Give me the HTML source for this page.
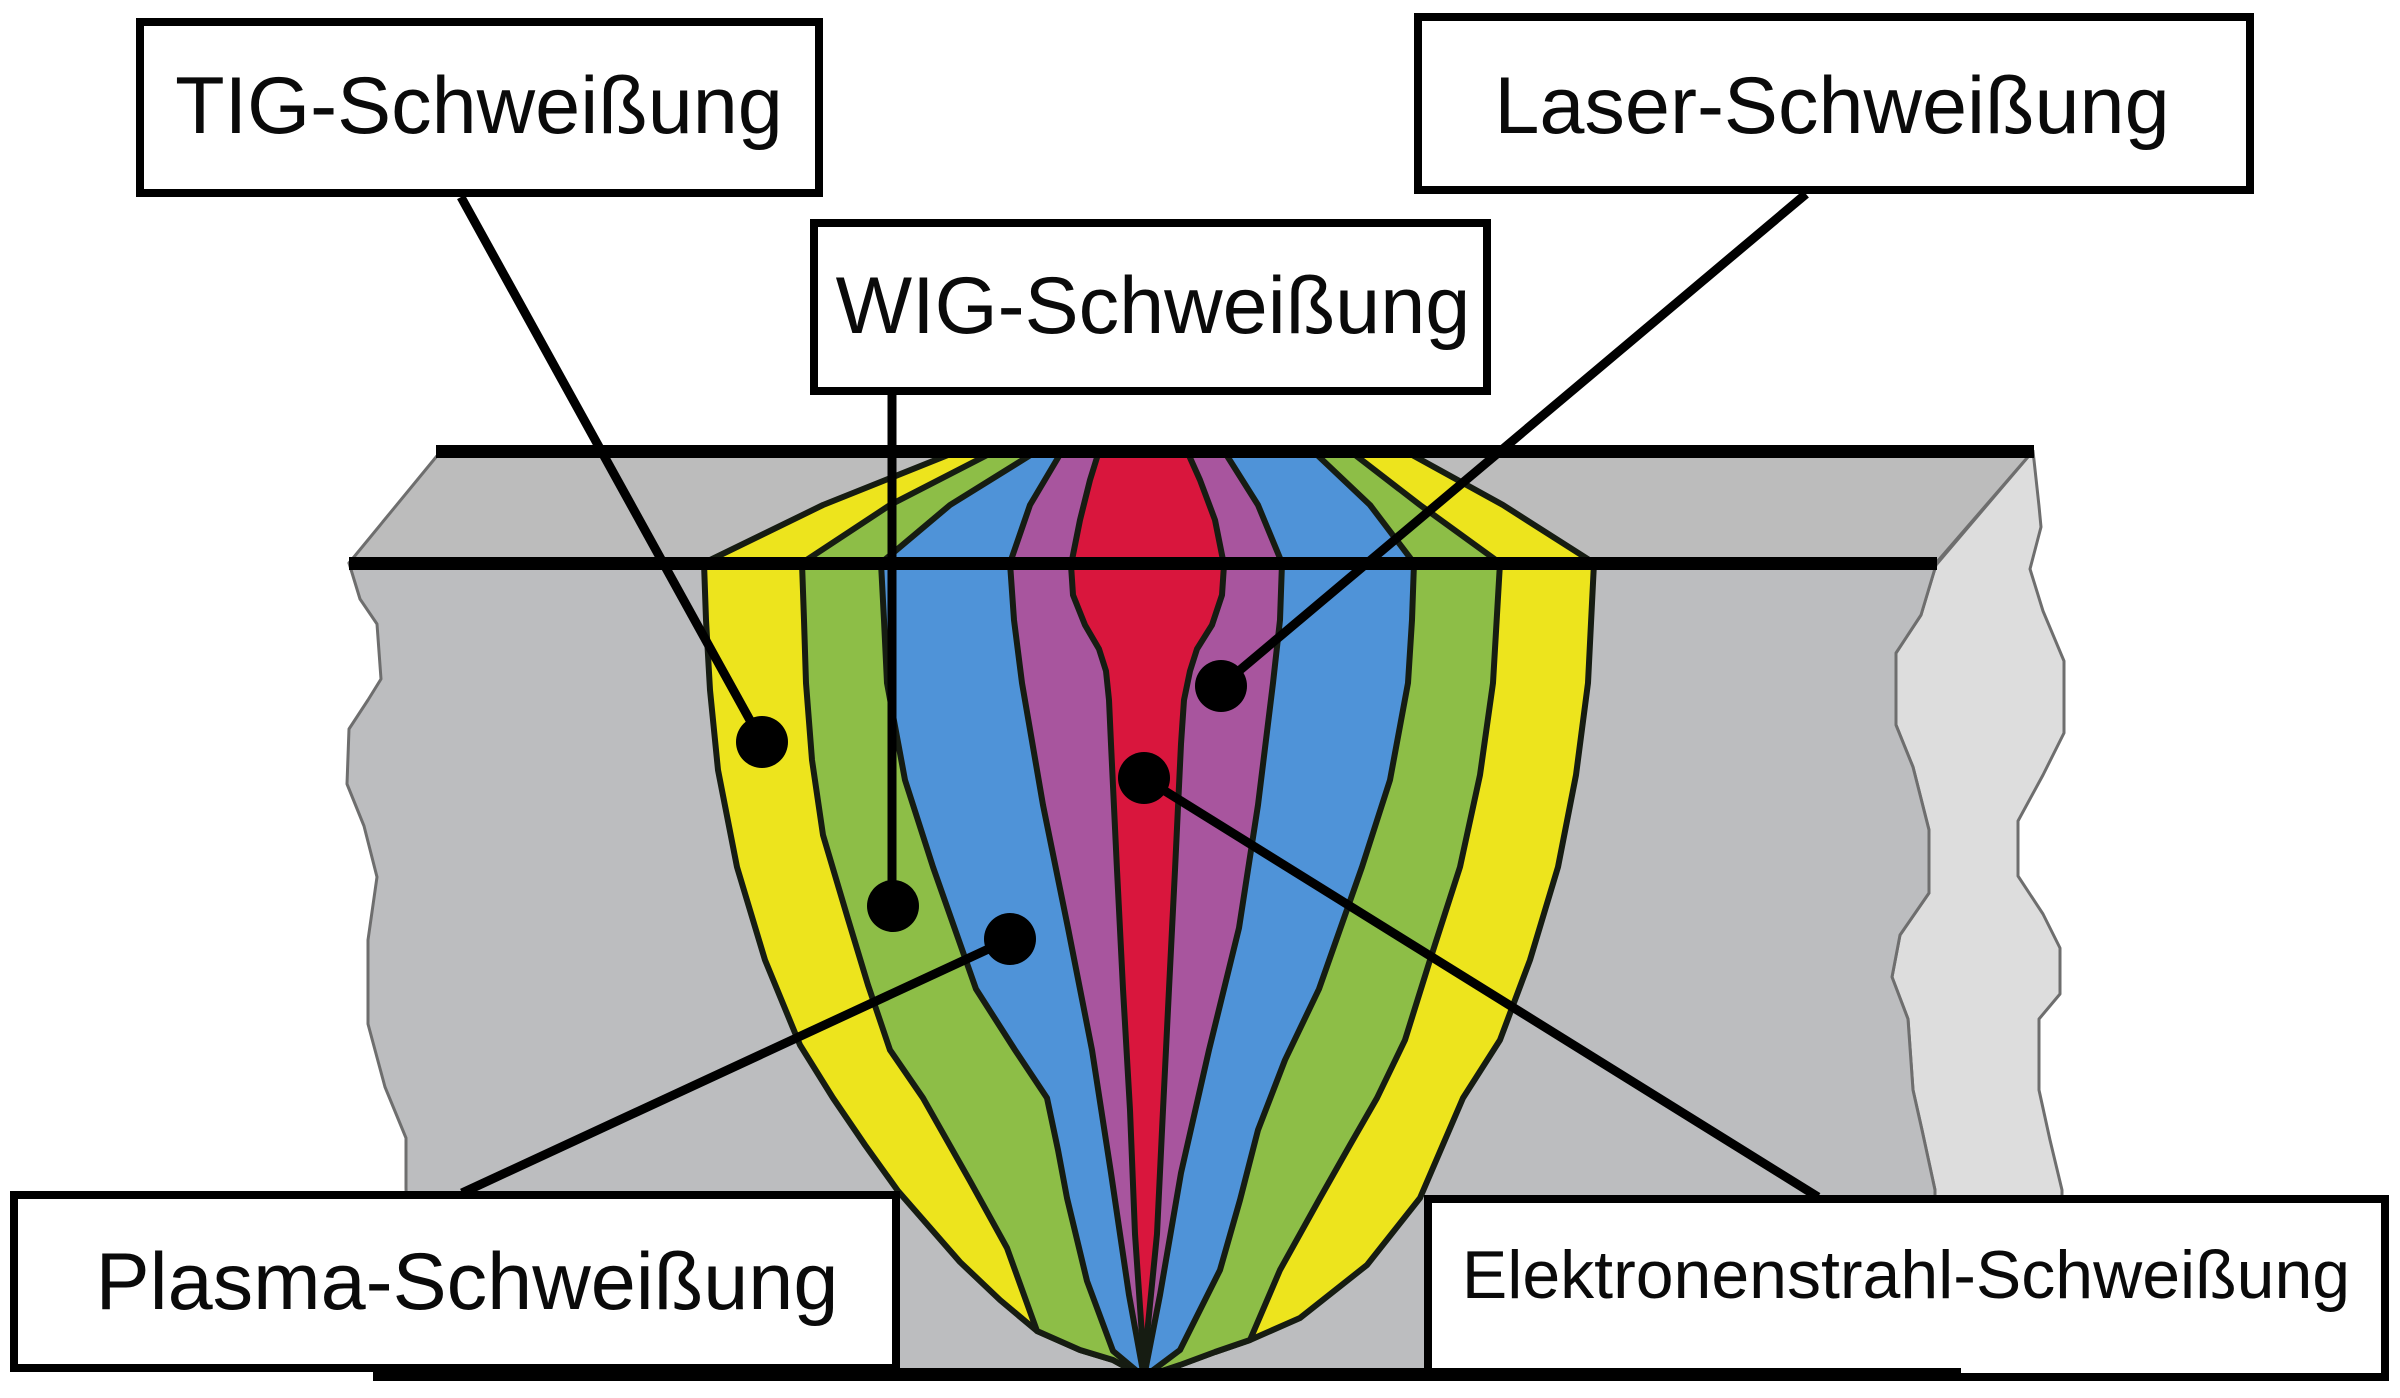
<!DOCTYPE html>
<html>
<head>
<meta charset="utf-8">
<style>
  html, body { margin: 0; padding: 0; background: #ffffff; }
  svg { display: block; }
  text { font-family: "Liberation Sans", Arial, sans-serif; fill: #0a0a0a; }
</style>
</head>
<body>
<svg width="2400" height="1398" viewBox="0 0 2400 1398" xmlns="http://www.w3.org/2000/svg">
  <rect x="0" y="0" width="2400" height="1398" fill="#ffffff"/>

  <!-- right side face (light gray) -->
  <path d="M 2033 451 L 2039 506 L 2041 527 L 2030 569 L 2043 611 L 2064 661 L 2064 733 L 2043 775 L 2018 821 L 2018 876 L 2043 914 L 2060 948 L 2060 994 L 2039 1019 L 2039 1090 L 2050 1140 L 2062 1190 L 2062 1377 L 1935 1377 L 1935 1190 L 1922 1130 L 1913 1090 L 1908 1019 L 1892 977 L 1900 935 L 1929 893 L 1929 830 L 1913 767 L 1896 725 L 1896 653 L 1921 615 L 1936 565 Z"
        fill="#dddddd" stroke="#6e6e6e" stroke-width="3" stroke-linejoin="round"/>

  <!-- top face -->
  <path d="M 441 451 L 2033 451 L 1936 563 L 349 563 Z" fill="#bcbcbc" stroke="#6e6e6e" stroke-width="3" stroke-linejoin="round"/>

  <!-- front face -->
  <path d="M 349 563 L 360 599 L 377 624 L 381 679 L 368 700 L 349 729 L 347 784 L 364 826 L 377 877 L 368 940 L 368 1024 L 385 1087 L 406 1138 L 406 1188 L 410 1377 L 1935 1377 L 1935 1190 L 1922 1130 L 1913 1090 L 1908 1019 L 1892 977 L 1900 935 L 1929 893 L 1929 830 L 1913 767 L 1896 725 L 1896 653 L 1921 615 L 1936 565 Z"
        fill="#bcbdbf" stroke="#6e6e6e" stroke-width="3" stroke-linejoin="round"/>

  <!-- weld zones -->
  <g stroke="#161c12" stroke-width="6" stroke-linejoin="round">
    <!-- yellow -->
    <path fill="#ede41d" d="M 958 451 L 823 505 L 704 563 L 706 620 L 710 690 L 718 770 L 737 867 L 765 960 L 800 1045 L 833 1098 L 865 1145 L 898 1191 L 960 1262 L 1000 1300 L 1037 1331 L 1080 1350 L 1113 1360 L 1144 1377 L 1180 1365 L 1215 1352 L 1250 1340 L 1300 1318 L 1367 1265 L 1420 1198 L 1463 1098 L 1500 1040 L 1530 960 L 1558 867 L 1576 775 L 1588 683 L 1594 563 L 1503 505 L 1405 451 Z"/>
    <!-- green -->
    <path fill="#8dbe47" d="M 995 451 L 890 505 L 802 563 L 804 620 L 806 683 L 812 760 L 823 835 L 848 919 L 868 985 L 890 1050 L 923 1098 L 970 1181 L 1007 1248 L 1037 1331 L 1080 1350 L 1113 1360 L 1144 1377 L 1180 1365 L 1215 1352 L 1250 1340 L 1280 1270 L 1320 1198 L 1350 1145 L 1377 1098 L 1405 1040 L 1430 960 L 1460 867 L 1480 775 L 1493 683 L 1500 563 L 1420 505 L 1350 451 Z"/>
    <!-- blue -->
    <path fill="#4f93d8" d="M 1037 451 L 950 505 L 881 563 L 884 620 L 887 683 L 905 780 L 933 867 L 976 989 L 1015 1050 L 1047 1098 L 1058 1150 L 1067 1198 L 1087 1281 L 1113 1351 L 1144 1377 L 1180 1350 L 1220 1270 L 1240 1200 L 1258 1130 L 1285 1060 L 1319 989 L 1362 867 L 1390 780 L 1408 683 L 1412 620 L 1414 563 L 1370 505 L 1313 451 Z"/>
    <!-- purple -->
    <path fill="#a8559e" d="M 1062 451 L 1030 505 L 1010 563 L 1014 620 L 1022 683 L 1043 805 L 1068 928 L 1092 1050 L 1111 1173 L 1129 1295 L 1144 1377 L 1160 1295 L 1181 1173 L 1209 1050 L 1239 928 L 1258 805 L 1273 683 L 1280 620 L 1282 563 L 1258 505 L 1224 451 Z"/>
    <!-- red -->
    <path fill="#d9163d" d="M 1099 451 L 1090 480 L 1080 520 L 1071 565 L 1073 595 L 1085 625 L 1099 649 L 1106 671 L 1109 700 L 1111 744 L 1117 870 L 1123 989 L 1130 1110 L 1135 1234 L 1144 1365 L 1157 1234 L 1163 1110 L 1169 989 L 1175 870 L 1181 744 L 1184 700 L 1190 671 L 1197 649 L 1212 625 L 1222 595 L 1224 565 L 1215 520 L 1200 480 L 1187 451 Z"/>
  </g>

  <!-- black plate lines -->
  <rect x="436" y="445" width="1598" height="13" fill="#000"/>
  <rect x="349" y="557" width="1588" height="13" fill="#000"/>

  <!-- connector lines -->
  <g stroke="#000" stroke-width="9" stroke-linecap="butt">
    <line x1="461" y1="197" x2="762" y2="742"/>
    <line x1="892" y1="395" x2="892" y2="906"/>
    <line x1="1806" y1="194" x2="1221" y2="686"/>
    <line x1="462" y1="1193" x2="1010" y2="939"/>
    <line x1="1818" y1="1197" x2="1144" y2="778"/>
  </g>

  <!-- dots -->
  <g fill="#000">
    <circle cx="762" cy="742" r="26"/>
    <circle cx="893" cy="906" r="26"/>
    <circle cx="1010" cy="939" r="26"/>
    <circle cx="1221" cy="686" r="26"/>
    <circle cx="1144" cy="778" r="26"/>
  </g>

  <!-- label boxes -->
  <g fill="#ffffff" stroke="#000" stroke-width="8">
    <rect x="140" y="22" width="679" height="171"/>
    <rect x="814" y="223" width="673" height="168"/>
    <rect x="1418" y="17" width="832" height="173"/>
    <rect x="14" y="1195" width="882" height="173"/>
    <rect x="1428" y="1199" width="957" height="178"/>
  </g>

  <!-- bottom line -->
  <rect x="373" y="1368" width="1588" height="13" fill="#000"/>

  <!-- labels -->
  <text x="479" y="133" font-size="81" text-anchor="middle">TIG-Schweißung</text>
  <text x="1153" y="333" font-size="81" text-anchor="middle">WIG-Schweißung</text>
  <text x="1832" y="133" font-size="81" text-anchor="middle">Laser-Schweißung</text>
  <text x="467" y="1309" font-size="81" text-anchor="middle">Plasma-Schweißung</text>
  <text x="1906" y="1298" font-size="68" text-anchor="middle">Elektronenstrahl-Schweißung</text>
</svg>
</body>
</html>
